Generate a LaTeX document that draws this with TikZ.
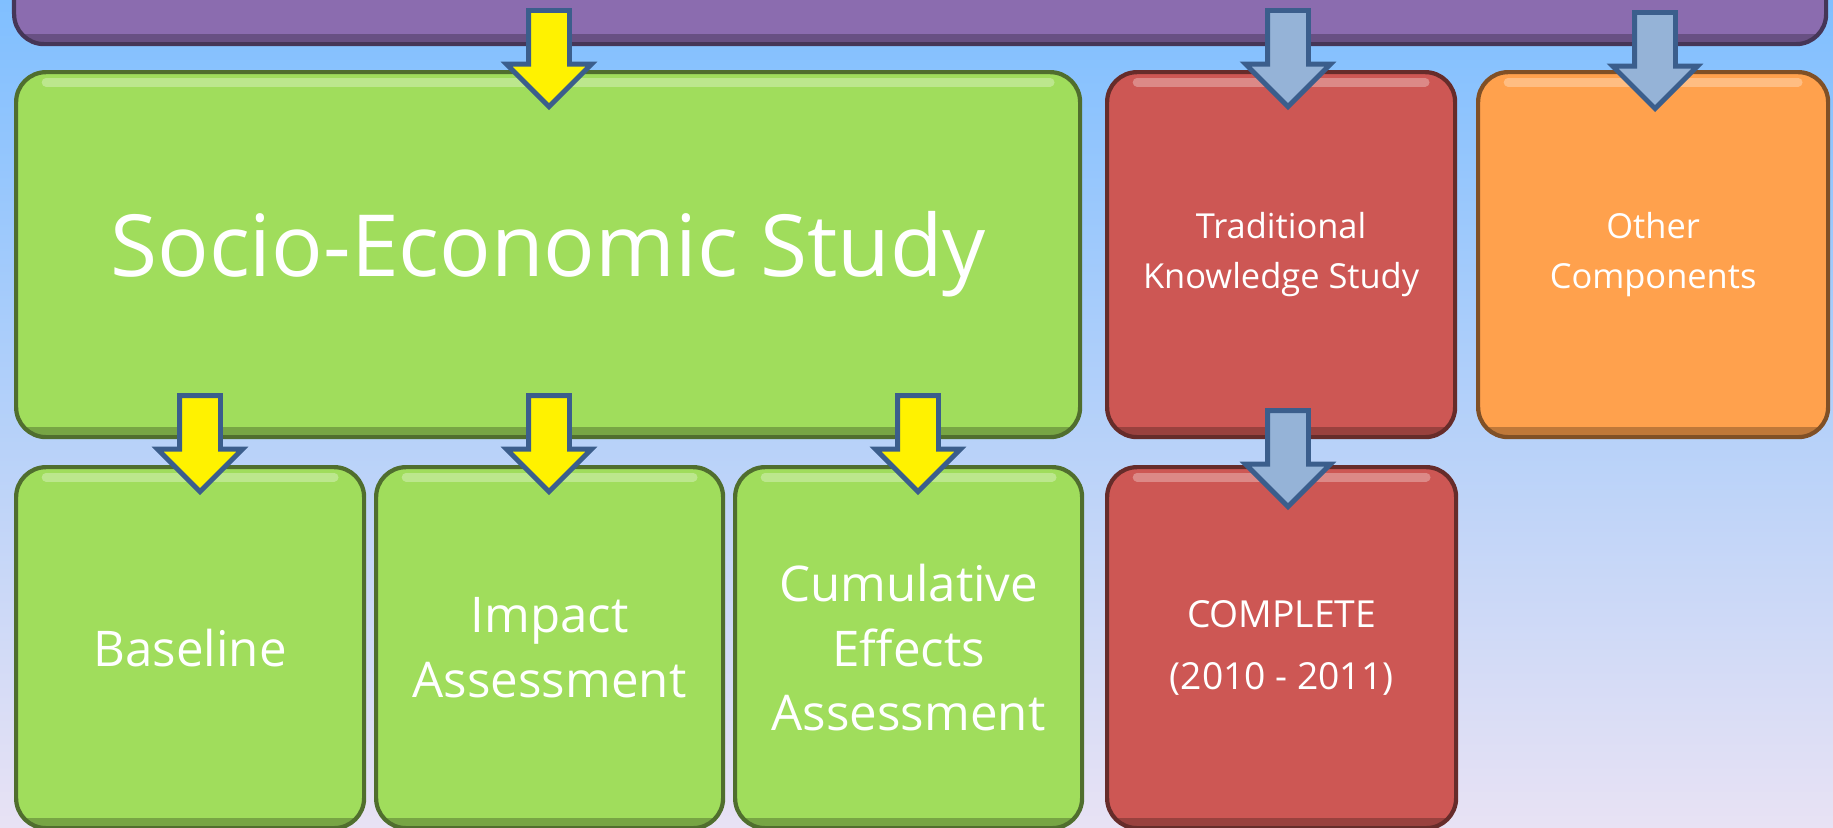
\documentclass[tikz,border=0pt]{standalone}
\usepackage{fontspec}
\setmainfont{Open Sans}
\usetikzlibrary{shapes.arrows}

\definecolor{bgtop}{RGB}{128,191,255}
\definecolor{bgbot}{RGB}{232,226,244}
\definecolor{purp}{RGB}{139,108,175}
\definecolor{sgreen}{RGB}{160,221,92}
\definecolor{tkred}{RGB}{205,87,84}
\definecolor{orng}{RGB}{255,161,77}
\definecolor{arrline}{RGB}{59,94,140}
\definecolor{arrblue}{RGB}{149,179,215}

\tikzset{
  box/.style={rounded corners=0.3cm, fill=#1, draw=#1!50!black, line width=1.2pt,
    text=white, align=center, anchor=north west, inner sep=0pt,
    path picture={
      \draw[white, opacity=.3, line width=2.5pt, line cap=round]
        ([xshift=0.3cm,yshift=-0.1cm]path picture bounding box.north west) --
        ([xshift=-0.3cm,yshift=-0.1cm]path picture bounding box.north east);
      \draw[black, opacity=.25, line width=3pt]
        ([yshift=0.05cm]path picture bounding box.south west) --
        ([yshift=0.05cm]path picture bounding box.south east);
    }},
  blockarrow/.style={single arrow, draw=arrline, fill=#1, line width=1.4pt,
    rotate=-90, anchor=tip, minimum height=0.96cm, minimum width=0.84cm,
    single arrow head extend=0.22cm, single arrow tip angle=90, inner sep=0.18cm}
}

\begin{document}
\begin{tikzpicture}
    % fondo
    \shade[top color=bgtop, bottom color=bgbot] (0,0) rectangle (18.33,-8.27);
    \useasboundingbox (0,0) rectangle (18.33,-8.27);

    % caixas
    \node[box=purp, minimum width=18.12cm, minimum height=1cm] (prog) at (0.12,0.58) {};
    \node[box=sgreen, minimum width=10.64cm, minimum height=3.65cm,
          font=\fontsize{24.4}{29}\selectfont] (socio) at (0.14,-0.70) {Socio-Economic Study};
    \node[box=tkred, minimum width=3.48cm, minimum height=3.65cm,
          font=\fontsize{9.8}{14}\selectfont] (tk) at (11.05,-0.70) {Traditional\\Knowledge Study};
    \node[box=orng, minimum width=3.50cm, minimum height=3.65cm,
          font=\fontsize{9.8}{14}\selectfont] (other) at (14.76,-0.70) {Other\\Components};
    \node[box=sgreen, minimum width=3.48cm, minimum height=3.61cm,
          font=\fontsize{14}{18.3}\selectfont] (base) at (0.14,-4.65) {Baseline};
    \node[box=sgreen, minimum width=3.47cm, minimum height=3.61cm,
          font=\fontsize{14}{18.3}\selectfont] (impact) at (3.74,-4.65) {Impact\\Assessment};
    \node[box=sgreen, minimum width=3.47cm, minimum height=3.61cm,
          font=\fontsize{14}{18.3}\selectfont] (cumul) at (7.33,-4.65) {Cumulative\\Effects\\Assessment};
    \node[box=tkred, minimum width=3.49cm, minimum height=3.61cm,
          font=\fontsize{10.6}{13}\selectfont] (done) at (11.05,-4.65) {COMPLETE\\[4.6pt](2010 - 2011)};

    % setas
    \node[blockarrow=yellow] (a1) at (5.49,-1.10) {};
    \node[blockarrow=arrblue] (a2) at (12.88,-1.10) {};
    \node[blockarrow=arrblue] (a3) at (16.55,-1.12) {};
    \node[blockarrow=yellow] (a4) at (2.00,-4.95) {};
    \node[blockarrow=yellow] (a5) at (5.49,-4.95) {};
    \node[blockarrow=yellow] (a6) at (9.18,-4.95) {};
    \node[blockarrow=arrblue] (a7) at (12.88,-5.10) {};
\end{tikzpicture}
\end{document}
